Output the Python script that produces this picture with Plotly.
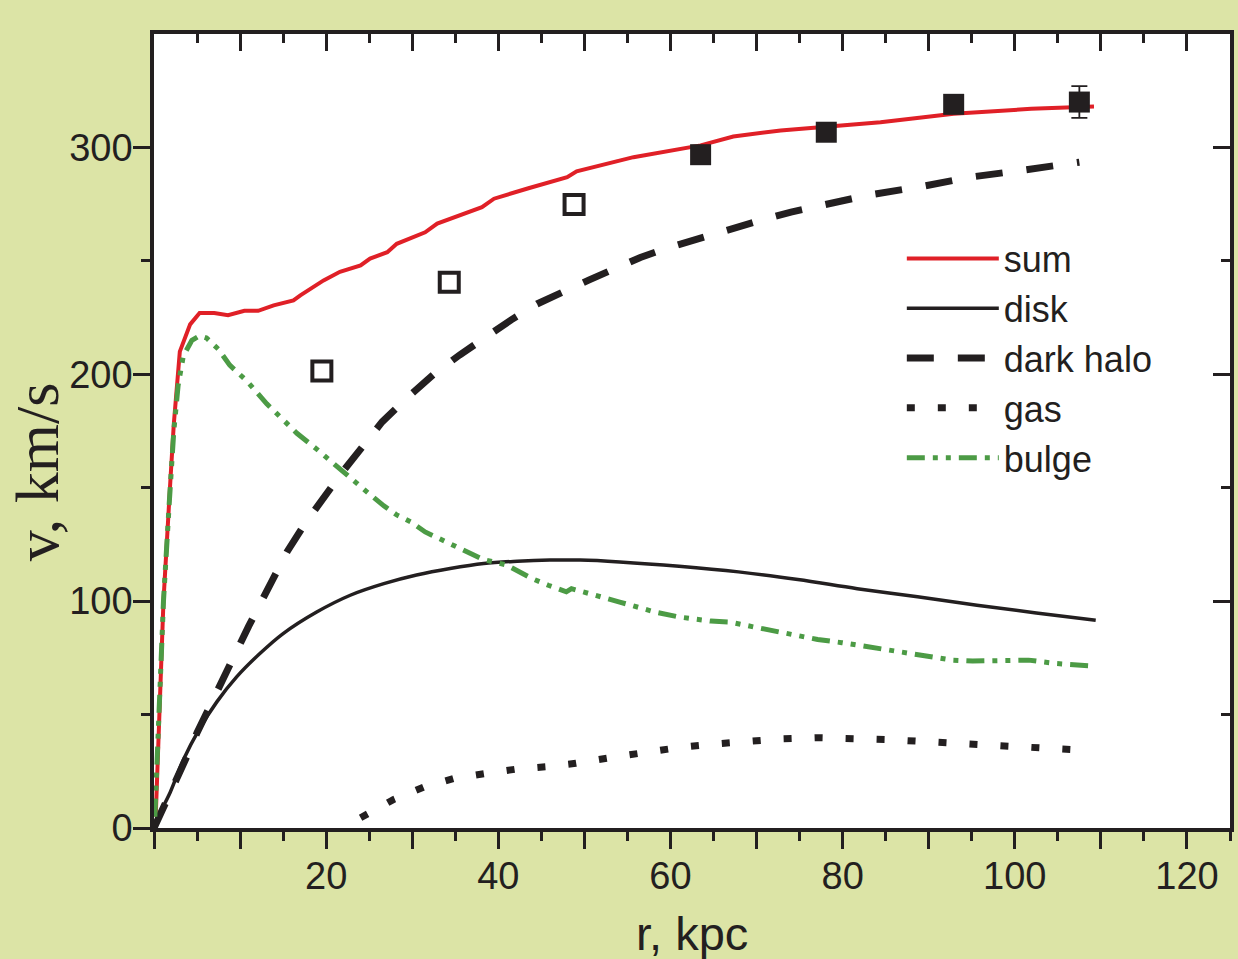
import plotly.graph_objects as go

# ---------------- data ----------------
sum_r = [0.2, 0.5, 1.1, 1.9, 2.3, 3.0, 4.2, 5.3, 7.0, 8.6, 10.5, 12.1, 13.9, 16.2, 17.0,
         19.7, 21.6, 24.0, 25.1, 27.1, 28.2, 31.5, 32.9, 38.1, 39.5, 43.5, 48.0, 49.1,
         55.7, 63.5, 67.3, 72.8, 75.1, 84.4, 92.9, 101.9, 109.2]
sum_v = [5, 40, 100, 153, 178, 210, 222, 227, 227, 226, 228, 228, 230.4, 232.6, 234.8,
         241.4, 245.2, 248, 251, 253.8, 257.5, 262.6, 266.4, 273.7, 277.4, 282, 286.9, 289.5,
         295.7, 300.9, 304.8, 307.5, 308.2, 311.1, 314.8, 317, 318]

disk_r = [0.0, 0.3, 1.9, 3.4, 5.3, 7.3, 9.6, 12.3, 15.0, 18.9, 22.8, 26.7, 30.5, 34.4,
          38.3, 42.2, 46.0, 49.5, 54.1, 61.0, 67.9, 74.8, 81.7, 88.7, 95.6, 102.5, 109.4]
disk_v = [0, 3.5, 15.9, 30, 43.8, 55.6, 66.6, 76.9, 85.7, 95.2, 102.6, 107.7, 111.5, 114.4,
          116.6, 117.6, 118.1, 118.1, 117.3, 115.4, 112.9, 109.5, 105.5, 101.9, 98.2, 94.8, 91.6]

halo_r = [0.0, 1.0, 2.5, 4.0, 5.0, 6.5, 8.0, 9.5, 11.0, 12.5, 14.0, 15.5, 17.5, 19.5, 22.0,
          24.0, 26.5, 29.5, 32.5, 35.5, 38.5, 41.5, 44.5, 47.5, 50.5, 53.5, 56.5, 59.5,
          62.5, 65.5, 68.5, 71.0, 74.0, 83.0, 89.5, 95.0, 101.0, 107.5]
halo_v = [0, 8, 21, 33, 42, 54, 66, 78, 89, 100, 111.5, 122, 134, 145, 157.5,
          167, 179, 190, 200, 208.5, 216.5, 224, 231, 236.5, 241.5, 246.5, 251.5, 255.5,
          259, 262.5, 265.5, 268.5, 271.5, 279, 283, 287, 290, 293.5]

gas_r = [24.0, 27.8, 31.3, 34.8, 38.5, 42.2, 45.5, 49.0, 53.0, 57.0, 61.0, 65.0, 69.0,
         73.0, 77.0, 81.0, 85.0, 88.5, 92.2, 95.7, 99.3, 102.9, 106.5]
gas_v = [4.5, 12.5, 18, 21.8, 24, 26, 27, 28.5, 31, 33.5, 35.5, 37, 38.3,
         39.3, 39.8, 39.6, 39, 38.3, 37.6, 37, 36.3, 35.5, 34.6]

bulge_r = [0.1, 0.4, 1.1, 1.8, 2.3, 2.8, 3.4, 4.4, 5.3, 6.1, 7.5, 8.8, 10.8, 13.1, 14.7,
           16.6, 18.9, 20.7, 22.0, 23.6, 25.1, 26.7, 28.2, 29.8, 31.5, 34.4, 36.4, 38.3,
           40.9, 43.9, 45.8, 47.9, 48.5, 52.2, 54.1, 58.2, 61.0, 64.7, 66.9, 69.7, 73.4,
           77.1, 79.9, 84.1, 86.3, 90.0, 92.8, 95.1, 99.3, 101.6, 104.8, 109.2]
bulge_v = [5, 35, 100, 145, 175, 195, 208, 215, 217, 216, 211, 204, 197, 187, 181,
           174, 167, 161, 157, 152, 147, 142, 138, 135, 130.5, 125.3, 121.6, 118.3,
           116, 110, 107, 104.1, 105.5, 101.8, 99.6, 95.2, 93.0, 91.2, 90.8, 88.6, 85.7,
           83.1, 81.7, 79.1, 77.6, 75.4, 74.0, 73.6, 74.0, 74.0, 72.5, 71.4]

open_r = [19.5, 34.3, 48.8]
open_v = [201.4, 240.6, 274.8]

filled_r = [63.5, 78.1, 92.9, 107.5]
filled_v = [296.8, 306.7, 319.0, 320.0]
filled_err = [0, 0, 0, 7]

x_ticks = [0, 10, 20, 30, 40, 50, 60, 70, 80, 90, 100, 110, 120]
x_ticktext = ["", "", "20", "", "40", "", "60", "", "80", "", "100", "", "120"]
x_minor = [5, 15, 25, 35, 45, 55, 65, 75, 85, 95, 105, 115, 125]
y_ticks = [0, 100, 200, 300]
y_ticktext = ["0", "100", "200", "300"]
y_minor = [50, 150, 250]

# ---------------- styles ----------------
INK = "#231f20"
RED = "#e02027"
GREEN = "#4c9b45"
BG = "#dce4a6"
SANS = "Liberation Sans, Arial, sans-serif"
SERIF = "Liberation Serif, Times New Roman, serif"

fig = go.Figure()

fig.add_trace(go.Scatter(x=sum_r, y=sum_v, mode="lines", name="sum",
                         line=dict(color=RED, width=4)))
fig.add_trace(go.Scatter(x=disk_r, y=disk_v, mode="lines", name="disk",
                         line=dict(color=INK, width=3.5, shape="spline")))
fig.add_trace(go.Scatter(x=halo_r, y=halo_v, mode="lines", name="dark halo",
                         line=dict(color=INK, width=7, dash="27px,24px")))
fig.add_trace(go.Scatter(x=gas_r, y=gas_v, mode="lines", name="gas",
                         line=dict(color=INK, width=7, dash="8px,23px")))
fig.add_trace(go.Scatter(x=bulge_r, y=bulge_v, mode="lines", name="bulge",
                         line=dict(color=GREEN, width=5,
                                   dash="18px,8px,5px,8px,5px,8px")))

fig.add_trace(go.Scatter(x=open_r, y=open_v, mode="markers", showlegend=False,
                         marker=dict(symbol="square-open", size=19, color=INK,
                                     line=dict(color=INK, width=4))))
fig.add_trace(go.Scatter(x=filled_r, y=filled_v, mode="markers", showlegend=False,
                         marker=dict(symbol="square", size=21, color=INK,
                                     line=dict(width=0)),
                         error_y=dict(type="data", array=filled_err, visible=True,
                                      color=INK, thickness=1.8, width=8)))

# invisible trace to carry the mirrored top / right axes
fig.add_trace(go.Scatter(x=[None], y=[None], xaxis="x2", yaxis="y2",
                         showlegend=False, hoverinfo="skip"))

XR = [0, 125]
YR = [0, 350]

common_axis = dict(showgrid=False, zeroline=False, showline=True,
                   linecolor=INK, linewidth=3.5, tickcolor=INK,
                   tickwidth=3)

fig.update_layout(
    width=1238, height=959,
    paper_bgcolor=BG, plot_bgcolor="white",
    margin=dict(l=154, r=8, t=34, b=131),
    font=dict(family=SANS, color=INK, size=38),
    xaxis=dict(range=XR, tickmode="array", tickvals=x_ticks, ticktext=x_ticktext,
               ticks="outside", ticklen=17, ticklabelstandoff=-5,
               minor=dict(tickmode="array", tickvals=x_minor, ticks="outside",
                          ticklen=9, tickwidth=3, tickcolor=INK),
               tickfont=dict(size=38, family=SANS, color=INK),
               **common_axis),
    yaxis=dict(range=YR, tickmode="array", tickvals=y_ticks, ticktext=y_ticktext,
               ticks="outside", ticklen=17, ticklabelstandoff=-7,
               minor=dict(tickmode="array", tickvals=y_minor, ticks="outside",
                          ticklen=9, tickwidth=3, tickcolor=INK),
               tickfont=dict(size=38, family=SANS, color=INK),
               **common_axis),
    xaxis2=dict(range=XR, overlaying="x", side="top", anchor="y",
                tickmode="array", tickvals=x_ticks, showticklabels=False,
                ticks="inside", ticklen=17,
                minor=dict(tickmode="array", tickvals=x_minor, ticks="inside",
                           ticklen=9, tickwidth=3, tickcolor=INK),
                **common_axis),
    yaxis2=dict(range=YR, overlaying="y", side="right", anchor="x",
                tickmode="array", tickvals=y_ticks, showticklabels=False,
                ticks="inside", ticklen=17,
                minor=dict(tickmode="array", tickvals=y_minor, ticks="inside",
                           ticklen=9, tickwidth=3, tickcolor=INK),
                **common_axis),
    legend=dict(x=0.695, y=0.755, xanchor="left", yanchor="top",
                bgcolor="rgba(0,0,0,0)", borderwidth=0,
                font=dict(size=36, family=SANS, color=INK),
                itemwidth=92, tracegroupgap=0),
    showlegend=True,
    annotations=[
        dict(text="v, km/s", textangle=-90, xref="paper", yref="paper",
             x=-0.108, y=0.449, xanchor="center", yanchor="middle",
             showarrow=False, font=dict(family=SERIF, size=62, color=INK)),
        dict(text="r, kpc", xref="paper", yref="paper",
             x=0.5, y=-0.133, xanchor="center", yanchor="middle",
             showarrow=False, font=dict(family=SANS, size=47, color=INK)),
    ],
)

fig.write_html("out.html")
